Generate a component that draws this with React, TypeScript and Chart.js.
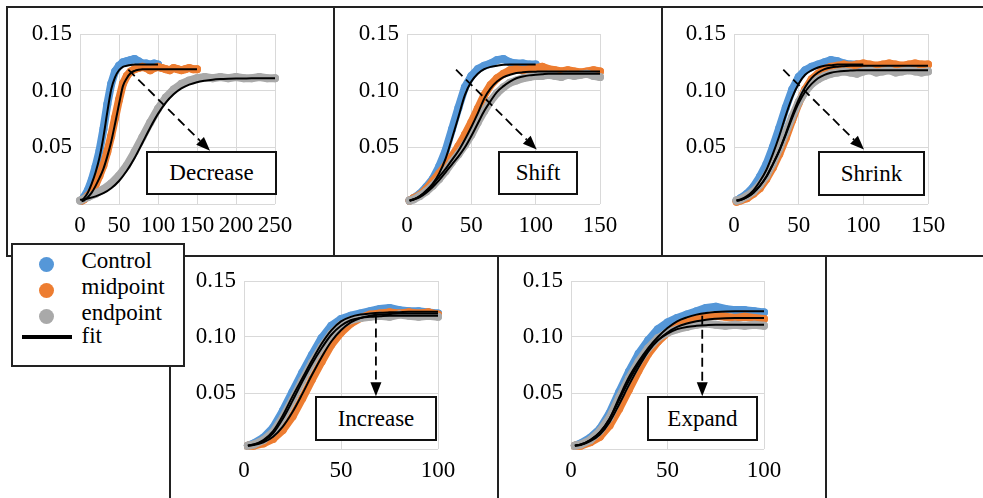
import React, { useEffect, useRef } from 'react';
import { Chart, registerables } from 'chart.js';

Chart.register(...registerables);

const SERIF = '"Liberation Serif", "Times New Roman", serif';
const BLUE = '#5597d8';
const ORANGE = '#ed7d31';
const GRAY = '#a9a9a9';
const GRID = '#d9d9d9';

// Time points (minutes)
const X100 = [2, 5, 10, 15, 20, 25, 30, 35, 40, 45, 50, 55, 60, 65, 70, 75, 80, 85, 90, 95, 100];
const X150 = [2, 5, 10, 15, 20, 25, 30, 35, 40, 45, 50, 55, 60, 65, 70, 75, 80, 85, 90, 95, 100,
  105, 110, 115, 120, 125, 130, 135, 140, 145, 150];
const X250 = [0, 10, 20, 30, 40, 50, 60, 70, 80, 90, 100, 110, 120, 130, 140, 150, 160, 170, 180,
  190, 200, 210, 220, 230, 240, 250];

// Axis ticks
const X_TICKS_250 = [0, 50, 100, 150, 200, 250];
const X_TICKS_150 = [0, 50, 100, 150];
const X_TICKS_100 = [0, 50, 100];
const Y_TICKS = [0, 0.05, 0.1, 0.15];
const Y_TICK_LABELS = ['', '0.05', '0.10', '0.15'];

// Decrease
const decBlueData = [0.003, 0.006, 0.012, 0.021, 0.033, 0.047, 0.066, 0.088, 0.106, 0.117, 0.122, 0.125, 0.126, 0.127, 0.128, 0.126, 0.124, 0.124, 0.123, 0.124, 0.123];
const decBlueFit = [0.003, 0.005, 0.010, 0.018, 0.028, 0.041, 0.059, 0.081, 0.101, 0.112, 0.118, 0.121, 0.122, 0.1227, 0.123, 0.123, 0.123, 0.123, 0.123, 0.123, 0.123];
const decOrangeData = [0.003, 0.004, 0.007, 0.011, 0.017, 0.025, 0.034, 0.046, 0.060, 0.076, 0.092, 0.106, 0.113, 0.117, 0.119, 0.120, 0.121, 0.120, 0.118, 0.120, 0.121, 0.120, 0.119, 0.118, 0.120, 0.119, 0.118, 0.119, 0.120, 0.119, 0.119];
const decOrangeFit = [0.0025, 0.003, 0.006, 0.010, 0.016, 0.023, 0.031, 0.042, 0.055, 0.071, 0.088, 0.104, 0.111, 0.1155, 0.1175, 0.1185, 0.119, 0.119, 0.119, 0.119, 0.119, 0.119, 0.119, 0.119, 0.119, 0.119, 0.119, 0.119, 0.119, 0.119, 0.119];
const decGrayData = [0.003, 0.006, 0.009, 0.013, 0.018, 0.025, 0.034, 0.046, 0.059, 0.072, 0.084, 0.094, 0.101, 0.106, 0.109, 0.111, 0.112, 0.111, 0.112, 0.111, 0.112, 0.111, 0.111, 0.112, 0.111, 0.111];
const decGrayFit = [0.0037, 0.0049, 0.0067, 0.0095, 0.0139, 0.0203, 0.0293, 0.0406, 0.0538, 0.0673, 0.0795, 0.0894, 0.0968, 0.102, 0.1053, 0.1075, 0.1088, 0.1097, 0.1102, 0.1105, 0.1107, 0.1108, 0.1109, 0.1109, 0.111, 0.111];

// Shift
const shiftBlueData = [0.003, 0.005, 0.009, 0.015, 0.022, 0.033, 0.047, 0.066, 0.085, 0.103, 0.113, 0.119, 0.122, 0.124, 0.127, 0.128, 0.125, 0.124, 0.124, 0.123, 0.123];
const shiftBlueFit = [0.003, 0.004, 0.007, 0.012, 0.018, 0.027, 0.040, 0.058, 0.077, 0.096, 0.108, 0.115, 0.119, 0.121, 0.122, 0.1228, 0.123, 0.123, 0.123, 0.123, 0.123];
const shiftOrangeData = [0.003, 0.005, 0.008, 0.013, 0.020, 0.027, 0.034, 0.042, 0.051, 0.061, 0.072, 0.084, 0.096, 0.105, 0.111, 0.115, 0.118, 0.119, 0.118, 0.119, 0.120, 0.121, 0.119, 0.118, 0.117, 0.118, 0.117, 0.116, 0.117, 0.118, 0.117];
const shiftOrangeFit = [0.003, 0.004, 0.007, 0.011, 0.017, 0.024, 0.031, 0.039, 0.047, 0.057, 0.068, 0.080, 0.093, 0.102, 0.108, 0.112, 0.114, 0.1155, 0.1162, 0.1166, 0.1168, 0.117, 0.117, 0.117, 0.117, 0.117, 0.117, 0.117, 0.117, 0.117, 0.117];
const shiftGrayData = [0.003, 0.004, 0.007, 0.011, 0.016, 0.022, 0.029, 0.037, 0.044, 0.052, 0.061, 0.072, 0.082, 0.091, 0.098, 0.103, 0.107, 0.109, 0.111, 0.112, 0.113, 0.113, 0.114, 0.113, 0.112, 0.114, 0.113, 0.114, 0.115, 0.113, 0.112];
const shiftGrayFit = [0.003, 0.004, 0.006, 0.010, 0.015, 0.021, 0.028, 0.035, 0.042, 0.050, 0.060, 0.071, 0.082, 0.091, 0.099, 0.104, 0.108, 0.111, 0.1125, 0.1135, 0.114, 0.1145, 0.115, 0.115, 0.115, 0.115, 0.115, 0.115, 0.115, 0.115, 0.115];

// Shrink
const shrinkBlueData = [0.003, 0.005, 0.009, 0.015, 0.024, 0.035, 0.050, 0.067, 0.085, 0.101, 0.112, 0.118, 0.121, 0.123, 0.125, 0.127, 0.126, 0.124, 0.123, 0.123, 0.122];
const shrinkBlueFit = [0.003, 0.004, 0.007, 0.012, 0.020, 0.030, 0.044, 0.060, 0.078, 0.094, 0.106, 0.114, 0.118, 0.1205, 0.122, 0.1225, 0.123, 0.123, 0.123, 0.123, 0.123];
const shrinkOrangeData = [0.002, 0.003, 0.005, 0.009, 0.014, 0.022, 0.032, 0.044, 0.058, 0.074, 0.089, 0.101, 0.110, 0.115, 0.119, 0.121, 0.122, 0.123, 0.122, 0.123, 0.124, 0.123, 0.122, 0.123, 0.124, 0.123, 0.122, 0.123, 0.124, 0.123, 0.123];
const shrinkOrangeFit = [0.003, 0.0035, 0.006, 0.010, 0.016, 0.024, 0.035, 0.047, 0.062, 0.078, 0.092, 0.103, 0.111, 0.116, 0.119, 0.1205, 0.1212, 0.1216, 0.122, 0.122, 0.122, 0.122, 0.122, 0.122, 0.122, 0.122, 0.122, 0.122, 0.122, 0.122, 0.122];
const shrinkGrayData = [0.003, 0.004, 0.007, 0.011, 0.017, 0.025, 0.036, 0.049, 0.063, 0.077, 0.090, 0.099, 0.106, 0.110, 0.113, 0.115, 0.116, 0.117, 0.116, 0.115, 0.117, 0.118, 0.116, 0.117, 0.118, 0.116, 0.117, 0.118, 0.117, 0.116, 0.117];
const shrinkGrayFit = [0.003, 0.0035, 0.006, 0.010, 0.016, 0.024, 0.035, 0.047, 0.061, 0.076, 0.089, 0.099, 0.106, 0.111, 0.114, 0.1158, 0.1168, 0.1174, 0.1177, 0.118, 0.118, 0.118, 0.118, 0.118, 0.118, 0.118, 0.118, 0.118, 0.118, 0.118, 0.118];

// Increase
const incBlueData = [0.003, 0.005, 0.010, 0.019, 0.034, 0.051, 0.068, 0.084, 0.099, 0.110, 0.116, 0.119, 0.121, 0.123, 0.125, 0.126, 0.124, 0.123, 0.123, 0.122, 0.121];
const incBlueFit = [0.003, 0.004, 0.008, 0.016, 0.030, 0.047, 0.063, 0.079, 0.094, 0.106, 0.114, 0.118, 0.120, 0.121, 0.1217, 0.122, 0.1222, 0.1225, 0.1225, 0.1225, 0.1225];
const incOrangeData = [0.003, 0.003, 0.005, 0.009, 0.017, 0.029, 0.045, 0.062, 0.078, 0.093, 0.104, 0.112, 0.117, 0.120, 0.121, 0.122, 0.121, 0.122, 0.121, 0.122, 0.120];
const incOrangeFit = [0.003, 0.0035, 0.006, 0.011, 0.020, 0.033, 0.049, 0.066, 0.082, 0.096, 0.106, 0.113, 0.117, 0.119, 0.120, 0.1205, 0.121, 0.121, 0.121, 0.121, 0.121];
const incGrayData = [0.003, 0.004, 0.008, 0.015, 0.028, 0.044, 0.061, 0.077, 0.091, 0.103, 0.111, 0.115, 0.117, 0.118, 0.119, 0.118, 0.120, 0.119, 0.118, 0.119, 0.118];
const incGrayFit = [0.003, 0.004, 0.007, 0.014, 0.027, 0.043, 0.060, 0.076, 0.090, 0.102, 0.110, 0.115, 0.117, 0.118, 0.1185, 0.119, 0.119, 0.119, 0.119, 0.119, 0.119];

// Expand
const expBlueData = [0.003, 0.005, 0.010, 0.018, 0.032, 0.051, 0.069, 0.085, 0.097, 0.107, 0.113, 0.117, 0.120, 0.123, 0.126, 0.127, 0.125, 0.124, 0.124, 0.123, 0.122];
const expBlueFit = [0.003, 0.004, 0.008, 0.015, 0.027, 0.046, 0.064, 0.078, 0.090, 0.100, 0.108, 0.114, 0.1175, 0.120, 0.1215, 0.1223, 0.1228, 0.123, 0.123, 0.123, 0.123];
const expOrangeData = [0.003, 0.003, 0.006, 0.011, 0.021, 0.036, 0.053, 0.070, 0.085, 0.096, 0.104, 0.110, 0.113, 0.116, 0.118, 0.119, 0.118, 0.117, 0.118, 0.117, 0.116];
const expOrangeFit = [0.003, 0.0035, 0.007, 0.013, 0.024, 0.040, 0.057, 0.073, 0.087, 0.097, 0.104, 0.109, 0.112, 0.114, 0.1155, 0.1163, 0.1168, 0.117, 0.117, 0.117, 0.117];
const expGrayData = [0.003, 0.004, 0.008, 0.016, 0.028, 0.046, 0.063, 0.078, 0.090, 0.099, 0.104, 0.107, 0.109, 0.111, 0.112, 0.111, 0.110, 0.111, 0.110, 0.111, 0.110];
const expGrayFit = [0.003, 0.004, 0.008, 0.015, 0.027, 0.044, 0.061, 0.076, 0.088, 0.097, 0.103, 0.107, 0.109, 0.110, 0.1106, 0.111, 0.111, 0.111, 0.111, 0.111, 0.111];

type Series = { x: number[]; data: number[]; fit: number[] };
type Box = { left: number; top: number; width: number; height: number };
type PanelSpec = {
  name: string;
  canvas: Box;
  xMax: number;
  xTicks: number[];
  blue: Series;
  orange: Series;
  gray: Series;
  arrowFrom: [number, number];
  arrowTo: [number, number];
  noteBox: Box;
};

// Shared geometry of the plot area inside each canvas
const AXIS_Y_WIDTH = 66;
const AXIS_X_HEIGHT = 44;
const PAD_TOP = 22;
const PAD_RIGHT = 55;

const PANELS: PanelSpec[] = [
  {
    name: 'Decrease',
    canvas: { left: 14, top: 12, width: 316, height: 236 },
    xMax: 250, xTicks: X_TICKS_250,
    blue: { x: X100, data: decBlueData, fit: decBlueFit },
    orange: { x: X150, data: decOrangeData, fit: decOrangeFit },
    gray: { x: X250, data: decGrayData, fit: decGrayFit },
    arrowFrom: [62, 0.1185], arrowTo: [166.7, 0.047],
    noteBox: { left: 146, top: 151, width: 131, height: 44 },
  },
  {
    name: 'Shift',
    canvas: { left: 341, top: 12, width: 314, height: 236 },
    xMax: 150, xTicks: X_TICKS_150,
    blue: { x: X100, data: shiftBlueData, fit: shiftBlueFit },
    orange: { x: X150, data: shiftOrangeData, fit: shiftOrangeFit },
    gray: { x: X150, data: shiftGrayData, fit: shiftGrayFit },
    arrowFrom: [38.1, 0.1185], arrowTo: [100.8, 0.048],
    noteBox: { left: 498, top: 151, width: 80, height: 44 },
  },
  {
    name: 'Shrink',
    canvas: { left: 668, top: 12, width: 315, height: 236 },
    xMax: 150, xTicks: X_TICKS_150,
    blue: { x: X100, data: shrinkBlueData, fit: shrinkBlueFit },
    orange: { x: X150, data: shrinkOrangeData, fit: shrinkOrangeFit },
    gray: { x: X150, data: shrinkGrayData, fit: shrinkGrayFit },
    arrowFrom: [38.1, 0.1185], arrowTo: [100.5, 0.048],
    noteBox: { left: 818, top: 151, width: 107, height: 45 },
  },
  {
    name: 'Increase',
    canvas: { left: 178, top: 259, width: 315, height: 234 },
    xMax: 100, xTicks: X_TICKS_100,
    blue: { x: X100, data: incBlueData, fit: incBlueFit },
    orange: { x: X100, data: incOrangeData, fit: incOrangeFit },
    gray: { x: X100, data: incGrayData, fit: incGrayFit },
    arrowFrom: [68, 0.12], arrowTo: [68, 0.047],
    noteBox: { left: 315, top: 396, width: 122, height: 45 },
  },
  {
    name: 'Expand',
    canvas: { left: 505, top: 259, width: 314, height: 234 },
    xMax: 100, xTicks: X_TICKS_100,
    blue: { x: X100, data: expBlueData, fit: expBlueFit },
    orange: { x: X100, data: expOrangeData, fit: expOrangeFit },
    gray: { x: X100, data: expGrayData, fit: expGrayFit },
    arrowFrom: [68, 0.119], arrowTo: [68, 0.047],
    noteBox: { left: 647, top: 396, width: 111, height: 45 },
  },
];

const toPoints = (xs: number[], ys: number[]) => xs.map((x, i) => ({ x, y: ys[i] }));

const bandDataset = (xs: number[], ys: number[], color: string, order: number) => ({
  data: toPoints(xs, ys),
  borderColor: color,
  backgroundColor: color,
  pointBackgroundColor: color,
  borderWidth: 8,
  pointRadius: 4,
  pointBorderWidth: 0,
  borderCapStyle: 'round' as const,
  borderJoinStyle: 'round' as const,
  tension: 0,
  fill: false,
  clip: 8,
  order,
});

const fitDataset = (xs: number[], ys: number[]) => ({
  data: toPoints(xs, ys),
  borderColor: '#000',
  borderWidth: 2,
  pointRadius: 0,
  cubicInterpolationMode: 'monotone' as const,
  fill: false,
  clip: 4,
  order: 0,
});

// Dashed arrow with a solid head, placed in data coordinates
const makeArrowPlugin = (from: [number, number], to: [number, number]) => ({
  id: 'noteArrow',
  afterDatasetsDraw(chart: any) {
    const { ctx, scales } = chart;
    const x1 = scales.x.getPixelForValue(from[0]);
    const y1 = scales.y.getPixelForValue(from[1]);
    const x2 = scales.x.getPixelForValue(to[0]);
    const y2 = scales.y.getPixelForValue(to[1]);
    const ang = Math.atan2(y2 - y1, x2 - x1);
    const headLen = 14;
    const headHalf = 5.5;
    const bx = x2 - headLen * Math.cos(ang);
    const by = y2 - headLen * Math.sin(ang);
    ctx.save();
    ctx.strokeStyle = '#000';
    ctx.fillStyle = '#000';
    ctx.lineWidth = 1.8;
    ctx.setLineDash([9, 5]);
    ctx.beginPath();
    ctx.moveTo(x1, y1);
    ctx.lineTo(bx, by);
    ctx.stroke();
    ctx.setLineDash([]);
    ctx.beginPath();
    ctx.moveTo(x2, y2);
    ctx.lineTo(bx + headHalf * Math.sin(ang), by - headHalf * Math.cos(ang));
    ctx.lineTo(bx - headHalf * Math.sin(ang), by + headHalf * Math.cos(ang));
    ctx.closePath();
    ctx.fill();
    ctx.restore();
  },
});

const tickFont = { family: SERIF, size: 23 };

function Panel({ spec }: { spec: PanelSpec }) {
  const ref = useRef<HTMLCanvasElement | null>(null);
  useEffect(() => {
    if (!ref.current) return;
    const chart = new Chart(ref.current, {
      type: 'line',
      data: {
        datasets: [
          fitDataset(spec.blue.x, spec.blue.fit),
          fitDataset(spec.orange.x, spec.orange.fit),
          fitDataset(spec.gray.x, spec.gray.fit),
          bandDataset(spec.gray.x, spec.gray.data, GRAY, 1),
          bandDataset(spec.orange.x, spec.orange.data, ORANGE, 2),
          bandDataset(spec.blue.x, spec.blue.data, BLUE, 3),
        ] as any,
      },
      options: {
        responsive: false,
        animation: false,
        devicePixelRatio: 1,
        events: [],
        layout: { padding: { top: PAD_TOP, right: PAD_RIGHT, left: 0, bottom: 0 } },
        plugins: { legend: { display: false }, tooltip: { enabled: false } },
        scales: {
          x: {
            type: 'linear',
            min: 0,
            max: spec.xMax,
            afterBuildTicks: (s: any) => { s.ticks = spec.xTicks.map((v) => ({ value: v })); },
            afterFit: (s: any) => { s.height = AXIS_X_HEIGHT; },
            grid: { color: GRID, lineWidth: 1, drawTicks: false },
            border: { display: false },
            ticks: {
              font: tickFont, color: '#000', padding: 8,
              maxRotation: 0, minRotation: 0, autoSkip: false,
              callback: (v: any) => String(v),
            },
          },
          y: {
            type: 'linear',
            min: 0,
            max: 0.15,
            afterBuildTicks: (s: any) => { s.ticks = Y_TICKS.map((v) => ({ value: v })); },
            afterFit: (s: any) => { s.width = AXIS_Y_WIDTH; },
            grid: { color: GRID, lineWidth: 1, drawTicks: false },
            border: { display: false },
            ticks: {
              font: tickFont, color: '#000', padding: 8,
              callback: (_v: any, i: number) => Y_TICK_LABELS[i],
            },
          },
        },
      } as any,
      plugins: [makeArrowPlugin(spec.arrowFrom, spec.arrowTo)],
    });
    return () => chart.destroy();
  }, [spec]);
  const c = spec.canvas;
  return (
    <canvas
      ref={ref}
      width={c.width}
      height={c.height}
      style={{ position: 'absolute', left: c.left, top: c.top, width: c.width, height: c.height }}
    />
  );
}

const FRAME = '2px solid #222';

const frames: Box[] = [
  { left: 6, top: 6, width: 329, height: 251 },
  { left: 333, top: 6, width: 330, height: 251 },
  { left: 661, top: 6, width: 340, height: 251 },
  { left: 169, top: 255, width: 330, height: 260 },
  { left: 497, top: 255, width: 330, height: 260 },
];

const LEGEND_ITEMS = [
  { label: 'Control', color: BLUE, kind: 'dot', top: 3 },
  { label: 'midpoint', color: ORANGE, kind: 'dot', top: 29 },
  { label: 'endpoint', color: GRAY, kind: 'dot', top: 55 },
  { label: 'fit', color: '#000', kind: 'line', top: 77.5 },
];

function Legend() {
  return (
    <div
      style={{
        position: 'absolute', left: 11, top: 243, width: 174, height: 124,
        boxSizing: 'border-box', border: FRAME, background: '#fff', zIndex: 3,
      }}
    >
      {LEGEND_ITEMS.map((it) => (
        <React.Fragment key={it.label}>
          {it.kind === 'dot' ? (
            <div
              style={{
                position: 'absolute', left: 26, top: it.top + 8.5, width: 15, height: 15,
                borderRadius: '50%', background: it.color,
              }}
            />
          ) : (
            <div
              style={{
                position: 'absolute', left: 9, top: it.top + 12.5, width: 50, height: 4,
                background: it.color,
              }}
            />
          )}
          <div
            style={{
              position: 'absolute', left: 68.5, top: it.top, fontSize: 23, lineHeight: '26px',
              fontFamily: SERIF, color: '#000', whiteSpace: 'nowrap',
            }}
          >
            {it.label}
          </div>
        </React.Fragment>
      ))}
    </div>
  );
}

export default function App() {
  return (
    <div
      style={{
        position: 'absolute', left: 0, top: 0, width: 983, height: 498,
        overflow: 'hidden', background: '#fff', fontFamily: SERIF,
      }}
    >
      {frames.map((f, i) => (
        <div
          key={i}
          style={{
            position: 'absolute', left: f.left, top: f.top, width: f.width, height: f.height,
            boxSizing: 'border-box', border: FRAME,
          }}
        />
      ))}
      {PANELS.map((p) => (
        <Panel key={p.name} spec={p} />
      ))}
      {PANELS.map((p) => (
        <div
          key={p.name + '-note'}
          style={{
            position: 'absolute', left: p.noteBox.left, top: p.noteBox.top,
            width: p.noteBox.width, height: p.noteBox.height, boxSizing: 'border-box',
            border: '2px solid #111', background: '#fff', display: 'flex',
            alignItems: 'center', justifyContent: 'center', fontSize: 23,
            fontFamily: SERIF, color: '#000', zIndex: 2,
          }}
        >
          {p.name}
        </div>
      ))}
      <Legend />
    </div>
  );
}
